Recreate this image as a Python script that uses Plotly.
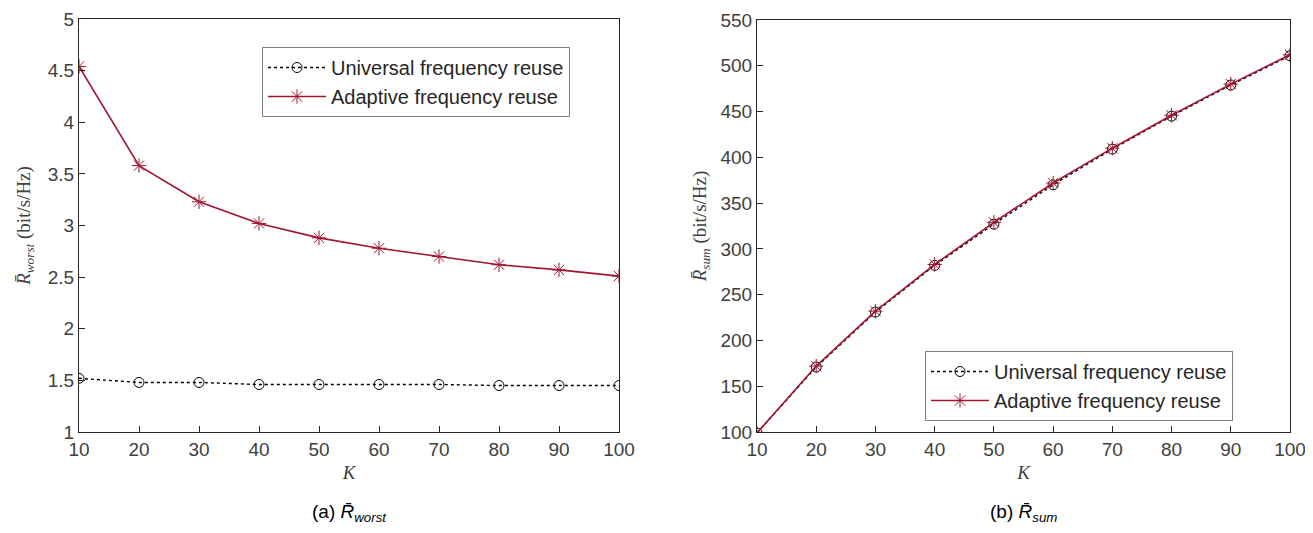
import plotly.graph_objects as go

K = [10, 20, 30, 40, 50, 60, 70, 80, 90, 100]
worst_universal = [1.52, 1.48, 1.48, 1.46, 1.46, 1.46, 1.46, 1.45, 1.45, 1.45]
worst_adaptive = [4.54, 3.58, 3.23, 3.02, 2.88, 2.78, 2.70, 2.62, 2.57, 2.51]
sum_universal = [99, 171, 231, 282, 327, 370, 409, 445, 479, 511]
sum_adaptive = [99, 172, 232, 283, 329, 372, 410, 446, 480, 512]
names = ["Universal frequency reuse", "Adaptive frequency reuse"]

RED = "#A2142F"
OFF = 8            # browser body margin
W, H = 1313 - 2 * OFF, 533 - 2 * OFF

fig = go.Figure()
for i, (xa, ya, lg, yu, yad) in enumerate([("x", "y", "legend", worst_universal, worst_adaptive),
                                           ("x2", "y2", "legend2", sum_universal, sum_adaptive)]):
    fig.add_trace(go.Scatter(x=K, y=yu, name=names[0], xaxis=xa, yaxis=ya, legend=lg,
                             mode="lines+markers",
                             line=dict(color="black", width=1.4, dash="dot"),
                             marker=dict(symbol="circle-open", size=10, color="black",
                                         line=dict(width=1, color="black"))))
    fig.add_trace(go.Scatter(x=K, y=yad, name=names[1], xaxis=xa, yaxis=ya, legend=lg,
                             mode="lines+markers",
                             line=dict(color=RED, width=1.6),
                             marker=dict(symbol="asterisk-open", size=12, color=RED,
                                         line=dict(width=1, color=RED))))

SANS = "Liberation Sans, Arial, sans-serif"
SERIF = "Liberation Serif, DejaVu Serif, serif"
tickfont = dict(family=SANS, size=19, color="#404040")
titlefont = dict(family=SERIF, size=19, color="#404040")
axis_common = dict(showline=True, mirror=True, linecolor="#262626", linewidth=1,
                   ticks="inside", ticklen=6, tickcolor="#262626", showgrid=False,
                   zeroline=False, tickfont=tickfont, automargin=False,
                   ticklabeloverflow="allow")

def px(x):
    return (x - OFF) / W

def py(y):
    return 1 - (y - OFF) / H

legend_common = dict(xanchor="left", yanchor="top", bgcolor="white",
                     bordercolor="#808080", borderwidth=1,
                     font=dict(family=SANS, size=20, color="#262626"),
                     itemwidth=58, tracegroupgap=0)

fig.update_layout(
    width=W, height=H,
    margin=dict(l=0, r=0, t=0, b=0, autoexpand=False),
    plot_bgcolor="white", paper_bgcolor="white",
    xaxis=dict(domain=[px(79), px(619)], range=[10, 100], tickvals=K, anchor="y",
               title=dict(text="<i>K</i>", font=titlefont, standoff=6), **axis_common),
    yaxis=dict(domain=[py(432), py(19)], range=[1, 5], dtick=0.5, anchor="x",
               title=dict(text="<i>R̄</i><sub><i>worst</i></sub> (bit/s/Hz)", font=titlefont, standoff=12),
               **axis_common),
    xaxis2=dict(domain=[px(757), px(1290)], range=[10, 100], tickvals=K, anchor="y2",
                title=dict(text="<i>K</i>", font=titlefont, standoff=6), **axis_common),
    yaxis2=dict(domain=[py(432), py(20)], range=[100, 550], dtick=50, anchor="x2",
                title=dict(text="<i>R̄</i><sub><i>sum</i></sub> (bit/s/Hz)", font=titlefont, standoff=8),
                **axis_common),
    legend=dict(x=px(262), y=py(47), **legend_common),
    legend2=dict(x=px(925), y=py(351), **legend_common),
    annotations=[
        dict(text="(a) <i>R̄</i><sub><i>worst</i></sub>", x=px(349), y=py(513), xref="paper", yref="paper",
             showarrow=False, xanchor="center", yanchor="middle",
             font=dict(family=SANS, size=19, color="black")),
        dict(text="(b) <i>R̄</i><sub><i>sum</i></sub>", x=px(1023), y=py(513), xref="paper", yref="paper",
             showarrow=False, xanchor="center", yanchor="middle",
             font=dict(family=SANS, size=19, color="black")),
    ],
)

fig.write_html("out.html")
